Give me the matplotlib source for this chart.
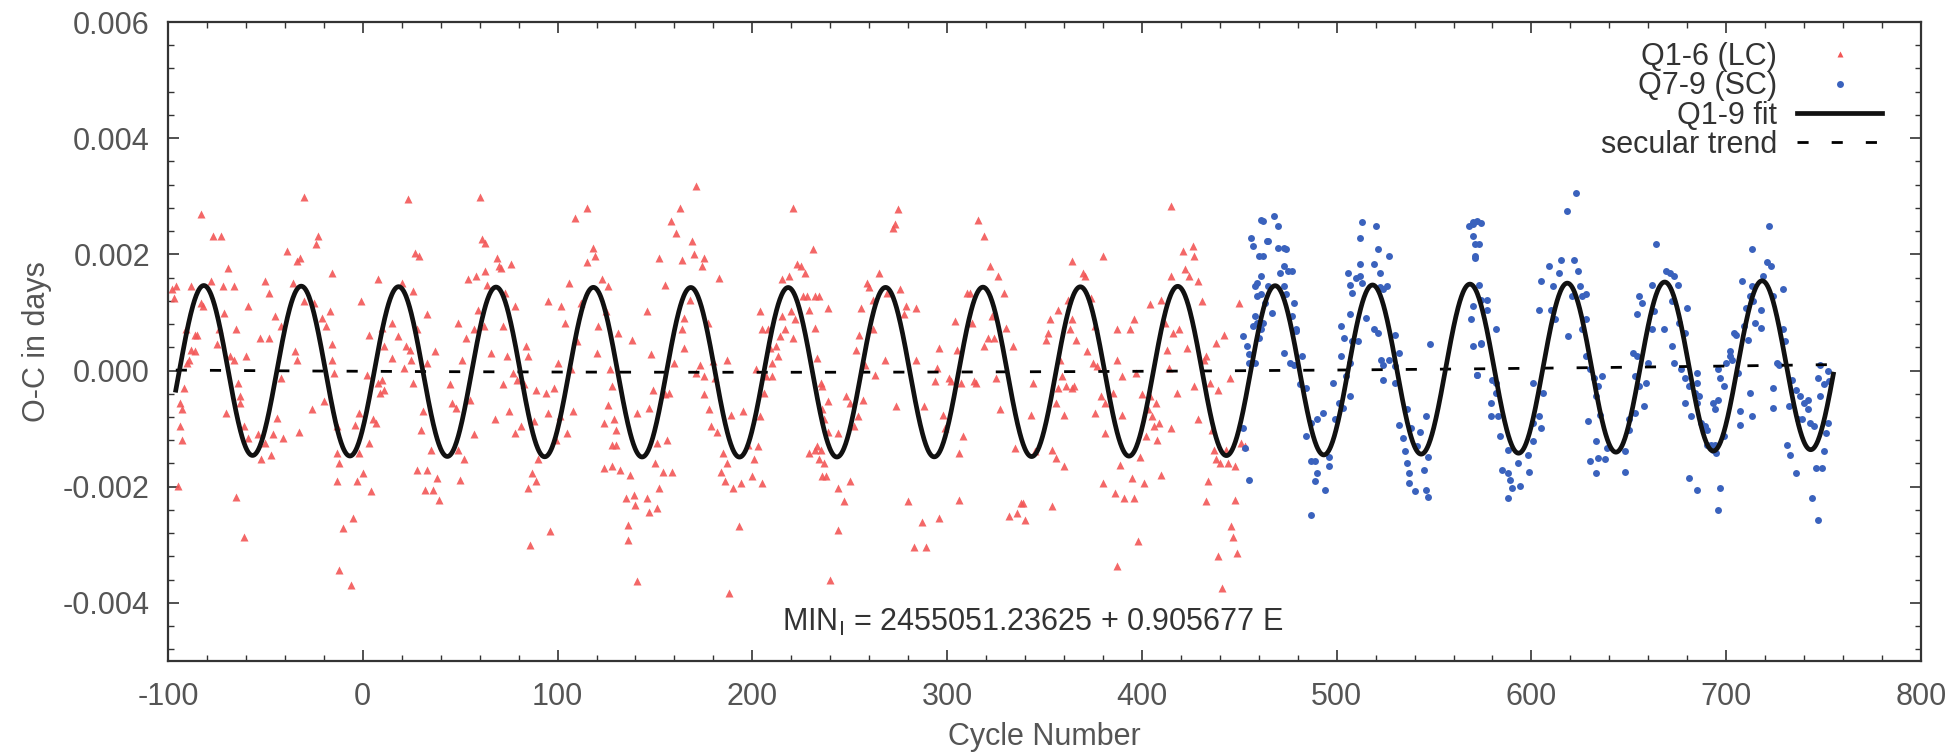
import matplotlib
matplotlib.use("Agg")
import matplotlib.pyplot as plt
import numpy as np
from matplotlib.lines import Line2D
from matplotlib.ticker import MultipleLocator, FormatStrFormatter

plt.rcParams["font.family"] = ["Liberation Sans", "DejaVu Sans"]
plt.rcParams["mathtext.fontset"] = "custom"
plt.rcParams["mathtext.rm"] = "Liberation Sans"
plt.rcParams["mathtext.default"] = "regular"
plt.rcParams["axes.unicode_minus"] = False

# (cycle, O-C) pairs, O-C in units of 1e-5 d
lc_points = [
    (-98, 140), (-97, 125), (-96, 145), (-95, -199), (-94, -96), (-93, -119), (-94, -56), (-93, -67),
    (-92, -30), (-91, 71), (-90, 13), (-89, 19), (-88, 36), (-88, 145), (-86, 62), (-85, 62), (-86, 33),
    (-83, 269), (-83, 117), (-82, 111), (-78, 154), (-77, 232), (-73, 232), (-75, 45), (-74, 71),
    (-72, 145), (-71, 99), (-70, -73), (-69, 177), (-68, 25), (-66, 19), (-66, 145), (-65, 71),
    (-65, -217), (-64, -21), (-63, -44), (-63, -56), (-61, -96), (-61, -286), (-60, 25), (-59, 111),
    (-59, -116), (-54, -110), (-53, 56), (-52, -153), (-50, 154), (-50, -125), (-48, 56), (-48, 134),
    (-47, -145), (-46, -110), (-45, 94), (-44, -82), (-42, -13), (-42, 76), (-41, -116), (-39, 206),
    (-36, 151), (-35, 33), (-34, 19), (-34, 188), (-33, -105), (-32, 194), (-30, 298), (-30, 120),
    (-26, -67), (-25, 117), (-24, 217), (-23, 232), (-21, 91), (-20, -53), (-19, 76), (-17, 102),
    (-16, 168), (-16, 45), (-16, 19), (-15, -4), (-13, -191), (-13, -96), (-13, -142), (-12, -159),
    (-12, -343), (-10, -271), (-5, -254), (-6, -369), (-4, -93), (-3, -191), (-2, -142), (-2, -73),
    (-1, 120), (0, -176), (2, -7), (3, 62), (3, -125), (4, -208), (5, -84), (7, -90), (8, -21),
    (8, 157), (9, -39), (10, 74),
    (11, -33), (10, -16), (11, 42), (15, 22), (15, 82), (18, 59), (20, 151), (21, 5), (22, 42),
    (23, 295), (24, 36), (25, 19), (26, -21), (26, 137), (27, 203), (28, 71), (29, 197), (30, -102),
    (31, -70), (33, 97), (33, 13), (28, -171), (33, -171), (32, -205), (35, -136), (36, -205), (37, 33),
    (38, -185), (39, -222), (45, -24), (46, -56), (48, -64), (49, -136), (49, 82), (50, -188), (51, 19),
    (52, -153), (53, 56), (54, 157), (55, -50), (57, -110), (57, 71), (58, 163), (59, 105), (60, 298),
    (61, 226), (62, 76), (63, 171), (63, 220), (64, 148), (66, 30), (68, -84), (69, 194), (70, 180),
    (71, 177), (72, 76), (72, -24), (73, 134), (74, 25), (75, -70), (76, 183), (77, -4), (78, 111),
    (78, -107), (79, -16), (81, -96), (83, -24), (84, 42), (85, 25), (85, -202), (86, -300), (87, -176),
    (88, -87), (89, -33), (89, -191), (90, -153), (94, -39), (95, 120), (95, -73), (96, -277), (98, -30),
    (99, -119), (100, 13), (101, -79), (102, 111), (104, 82), (105, -107), (106, 151), (107, 2),
    (108, -70), (109, 263), (110, 51), (112, 117), (115, 280), (115, 186), (118, 211), (119, 197),
    (120, 30), (121, 76), (123, 157), (124, -90), (124, -168),
    (125, 102), (126, 145), (127, 2), (128, -27), (126, -59), (129, -84), (128, -128), (130, -128),
    (130, -102), (131, 65), (128, -165), (132, -171), (135, -220), (136, -266), (136, -291), (137, -179),
    (138, 53), (139, -214), (140, -231), (141, -73), (141, -363), (146, -220), (147, -243), (146, 102),
    (147, -64), (148, 28), (149, -33), (150, -159), (151, -125), (151, -237), (152, -202), (152, 194),
    (154, -174), (155, -41), (155, 148), (156, -119), (157, -39), (158, 257), (159, -174), (160, 13),
    (161, 237), (163, 280), (164, 191), (164, 71), (165, 39), (165, 91), (168, 122), (169, 223),
    (170, 200), (171, 318), (171, -4), (173, 10), (174, 180), (175, 194), (175, -41), (175, -10),
    (177, 82), (178, -67), (179, -96), (180, 16), (181, -13), (182, -105), (183, 160), (184, -174),
    (185, -142), (186, -191), (187, 19), (187, -159), (188, -383), (189, -76), (190, -202), (193, -268),
    (194, -194), (195, -70), (198, -128), (200, -182), (201, -153), (202, 2), (203, -130), (204, -79),
    (204, 102), (205, -194), (205, 71), (206, -39), (207, -10), (208, 71), (209, 39), (210, -10),
    (210, 13), (212, 42), (213, 25), (214, 59), (215, 157), (215, 94), (217, 71), (219, 163), (220, 102),
    (221, 280), (221, 56), (222, 88), (223, 183), (225, 180), (226, 128), (227, 168), (228, 128),
    (229, 105), (231, 209), (232, 74), (232, 128), (233, 22), (229, -142), (232, -136), (234, -153),
    (236, -182), (235, -21), (236, -67),
    (234, 128), (239, 108), (236, -27), (239, -53), (237, -84), (239, -105), (244, -108), (233, -130),
    (235, -136), (237, -159), (238, -182), (244, -202), (247, -225), (244, -274), (240, -360),
    (250, -191), (248, -44), (250, -56), (252, -96), (254, -79), (253, 36), (255, 62), (256, 108),
    (257, -50), (258, 10), (259, 151), (260, 143), (262, 71), (262, 122), (263, -7), (265, 168),
    (268, 19), (269, 134), (272, 246), (273, 252), (275, 278), (274, -61), (276, 140), (278, 97),
    (279, 111), (280, -225), (283, -303), (284, 19), (284, 108), (287, -260), (288, -61), (289, -303),
    (294, -18), (295, 5), (296, -254), (296, 39), (298, -76), (299, -99), (301, -13), (302, -18),
    (304, 85), (305, 36), (306, -222), (306, -142), (308, -113), (307, -21), (310, 134), (312, 134),
    (313, 82), (314, -18), (315, -21), (316, 260), (319, 42), (319, 232), (321, 56), (322, 180),
    (323, 94), (324, 56), (325, -13), (326, 163), (327, -67), (329, 134), (330, 74), (332, -251),
    (334, 42), (335, -133), (336, -245), (338, -228), (340, -257), (339, -228), (343, -76), (344, -21),
    (345, -139), (354, -234), (354, -136), (356, -151), (360, -165), (360, -76), (357, 105), (353, 88),
    (352, 65), (351, 53), (358, 19), (359, -10), (357, -30), (361, -27), (364, -30), (365, -27),
    (356, -56), (362, 122), (363, 71), (364, 88), (366, 53), (364, 188), (370, 168), (371, 163),
    (372, 33), (374, 125), (375, 13), (376, -73), (377, 7), (376, 76), (379, -44), (380, 197),
    (380, -194), (381, -107), (381, -56), (385, -39), (386, -211), (387, 71), (387, 19), (387, -337),
    (389, -162), (390, -10), (390, -76), (391, -220), (394, 71), (395, -185), (396, 88), (396, -220),
    (397, -4), (398, -294), (399, -148), (400, -41), (401, -194), (402, -113), (403, -67), (404, 114),
    (404, -44), (405, -79), (406, -96), (407, -56), (408, -119), (409, -90), (410, -179), (410, 122),
    (412, 82), (413, 36), (414, 5), (415, 283), (415, -99), (415, 163), (416, 65), (418, -39), (419, 71),
    (421, 206), (422, 174), (423, 39), (424, 163), (426, 214), (427, 197), (427, -27), (429, 154),
    (429, -84), (431, 120), (432, 19), (433, 25), (433, -225), (434, -191), (435, -21), (436, -102),
    (437, -136), (438, 48), (438, -153), (439, -33), (440, -159), (442, 62), (443, -136), (444, -159),
    (445, -13), (446, -268), (447, -286), (448, -165), (448, -222), (439, -320), (441, -375),
    (449, -314), (450, 117), (451, -125), (453, -130),
]

# Q7-9 short cadence timings, same units
sc_points = [
    (452, 59), (454, 42), (455, 13), (455, 28), (456, 229), (457, 76), (458, 145), (459, 128), (460, 197),
    (461, 260), (458, 94), (461, 163), (452, -99), (453, -133), (455, -188),
    (457, 214), (459, 151), (459, 82), (461, 131), (462, 197), (462, 257), (464, 223), (465, 223),
    (463, 117), (465, 145), (461, 71), (462, 82), (460, 56), (458, 13), (467, 99), (468, 266), (470, 249),
    (470, 211), (473, 211), (474, 209), (471, 168), (473, 180), (475, 171), (477, 171), (473, 145),
    (474, 131), (478, 117), (477, 94), (479, 71), (479, 68), (473, 30), (476, 13), (478, 10), (482, 25),
    (481, -24), (484, -30), (484, -113), (487, -90), (487, -156), (489, -156), (490, -176), (489, -191),
    (487, -248), (494, -205), (490, -84), (493, -73), (496, -148), (496, -165), (498, -21), (499, -84),
    (501, -56), (503, -64), (507, -44), (502, 76), (504, 56), (502, 25), (505, -10), (507, 13), (507, 97),
    (508, 51), (511, 51), (506, 168), (507, 148), (508, 134), (510, 160), (512, 163), (512, 183),
    (513, 151), (512, 229), (513, 255), (515, 91), (519, 183), (520, 249), (519, 71), (521, 65),
    (521, 209), (522, 168), (522, 143), (524, 140), (526, 145), (527, 197), (523, 19), (524, 10),
    (524, -16), (527, 19), (530, 7), (530, 62), (532, 30), (530, -21), (532, -93), (534, -116),
    (535, -139), (536, -67), (538, -99), (536, -159), (537, -176), (537, -194), (540, -208), (541, -130),
    (543, -105), (545, -171), (546, -79), (546, -205), (547, -217), (547, -148), (548, 45), (568, 249),
    (570, 255), (570, 232), (569, 88), (570, 42), (570, 111), (571, 197), (572, -7), (574, 48),
    (570, 252), (572, 257), (574, 254), (571, 218), (573, 218), (571, 194), (573, 148), (574, 122),
    (577, 122), (577, 105), (582, 71), (574, 45), (572, -7), (580, -16), (582, -21), (582, -39),
    (579, -56), (579, -79), (583, -79), (584, -113), (588, -136), (585, -171), (588, -176), (589, -188),
    (590, -202), (594, -199), (588, -220), (593, -159), (598, -145), (599, -174), (601, -122),
    (601, -90), (604, -79), (605, -99), (606, -39), (601, -21), (604, 105), (605, 154), (609, 180),
    (610, 105), (611, 145), (612, 88), (614, 168), (615, 191), (618, 275), (619, 59), (621, 128),
    (622, 191), (623, 306), (624, 171), (625, 145), (626, 128), (628, 131), (626, 71), (628, 88),
    (628, 25), (630, 2), (632, -13), (633, -44), (634, -27), (636, -10), (635, -76), (629, -87),
    (633, -122), (634, -151), (630, -156), (633, -176), (638, -153), (639, -133), (648, -139),
    (648, -174), (650, -102), (650, -84), (653, -73), (655, -27), (653, -10), (652, 30), (654, 25),
    (655, 128), (654, 97), (657, 117), (658, -61), (659, -21), (660, 13), (662, 71), (663, 102),
    (662, 148), (664, 217), (668, 71), (669, 171), (671, 168), (672, 120), (673, 163), (675, 148),
    (676, 82), (680, 108), (679, 65), (672, 42), (673, 13), (677, 2), (679, -13), (681, -27), (679, -56),
    (682, -79), (681, -185), (685, -205),
    (684, -39), (685, -56), (685, -21), (686, -44), (685, -4), (687, -90), (689, -96), (690, -102),
    (690, -128), (692, -128), (693, -137), (694, -128), (695, -142), (696, -240), (697, -202),
    (699, -113), (693, -56), (694, -67), (696, -50), (696, 2), (697, -13), (699, -27), (700, 13),
    (702, 25), (702, 33), (703, 19), (704, 65), (705, 62), (706, -4), (707, -70), (707, -93), (709, 76),
    (710, 108), (711, 53), (712, -39), (712, 128), (713, 209), (713, -79), (713, 145), (714, 120),
    (715, 82), (708, 154), (718, 105), (718, 74), (719, 163), (721, 186), (723, 180), (722, 249),
    (724, 128), (724, -30), (724, -64), (726, 13), (727, 10), (729, 140), (729, 71), (730, 51),
    (731, -128), (733, -145), (732, -61), (734, -16), (736, -176), (736, -33), (738, -44), (740, -56),
    (742, -50), (737, -84), (739, -84), (742, -67), (743, -90), (745, -96), (744, -220), (746, -168),
    (749, -168), (747, -257), (747, -13), (748, 10), (750, -24), (750, -139), (751, -107), (752, -90),
    (752, -1), (753, -18), (748, -44),
]

# Q1-9 fit: periodic term plus quadratic secular trend (days, cycles)
FIT_AMPLITUDE = 0.00146
FIT_PERIOD = 50.0
FIT_PEAK_CYCLE = 18.4
TREND_VERTEX_CYCLE = 200.0
TREND_VERTEX_OC = -0.00003
TREND_CURVATURE = 4.3e-10
FIT_START, FIT_END = -96, 755

UNIT = 1e-5

lc_cycle, lc_oc = zip(*lc_points)
sc_cycle, sc_oc = zip(*sc_points)
lc_oc = np.array(lc_oc) * UNIT
sc_oc = np.array(sc_oc) * UNIT

E = np.linspace(FIT_START, FIT_END, 3000)
trend = TREND_VERTEX_OC + TREND_CURVATURE * (E - TREND_VERTEX_CYCLE) ** 2
fit = trend + FIT_AMPLITUDE * np.cos(2 * np.pi * (E - FIT_PEAK_CYCLE) / FIT_PERIOD)

red = "#f25656"
blue = "#3a62bd"
grey = "#555555"
FS = 22
trend_dashes = (4, 8.3)

fig = plt.figure(figsize=(19.6, 7.55), dpi=100)
ax = fig.add_axes([168 / 1960, 1 - 661 / 755, (1921 - 168) / 1960, (661 - 22) / 755])

ax.plot(lc_cycle, lc_oc, linestyle="none", marker="^", ms=5.5, color=red, mec="none", alpha=0.9)
ax.plot(sc_cycle, sc_oc, linestyle="none", marker="o", ms=5, color=blue, mec="none")
ax.plot(E, trend, color="black", lw=2.0, dashes=trend_dashes)
ax.plot(E, fit, color="#111111", lw=3.4)

ax.set_xlim(-100, 800)
ax.set_ylim(-0.005, 0.006)
ax.xaxis.set_major_locator(MultipleLocator(100))
ax.xaxis.set_minor_locator(MultipleLocator(20))
ax.yaxis.set_major_locator(MultipleLocator(0.002))
ax.yaxis.set_minor_locator(MultipleLocator(0.0004))
ax.yaxis.set_major_formatter(FormatStrFormatter("%.3f"))

ax.tick_params(which="both", direction="in", top=True, right=True, colors="#333333",
               labelcolor=grey, labelsize=FS)
ax.tick_params(which="major", length=8, width=1.2)
ax.tick_params(which="minor", length=4, width=1.0)
ax.tick_params(axis="x", which="major", pad=15)
ax.tick_params(axis="y", which="major", pad=13)
for s in ax.spines.values():
    s.set_color("#333333")
    s.set_linewidth(1.6)

ax.set_xlabel("Cycle Number", fontsize=FS, color=grey, labelpad=7)
ax.set_ylabel("O-C in days", fontsize=FS, color=grey, labelpad=8)

ax.text(344, -0.00433, r"MIN$_\mathrm{I}$ = 2455051.23625 + 0.905677 E",
        ha="center", va="center", fontsize=FS, color="#333333")

handles = [
    Line2D([], [], linestyle="none", marker="^", ms=5, color=red, mec="none"),
    Line2D([], [], linestyle="none", marker="o", ms=5, color=blue, mec="none"),
    Line2D([], [], color="#111111", lw=3.4),
    Line2D([], [], color="black", lw=2.0, dashes=trend_dashes),
]
labels = ["Q1-6 (LC)", "Q7-9 (SC)", "Q1-9 fit", "secular trend"]
leg = ax.legend(handles, labels, loc="upper right", bbox_to_anchor=(0.985, 0.988),
                markerfirst=False, frameon=False, fontsize=FS, handlelength=2.8,
                handletextpad=0.65, labelspacing=-0.02, borderaxespad=0.0, borderpad=0.4,
                numpoints=1)
for t in leg.get_texts():
    t.set_color("#333333")

fig.savefig("out.png", dpi=100, facecolor="white")
